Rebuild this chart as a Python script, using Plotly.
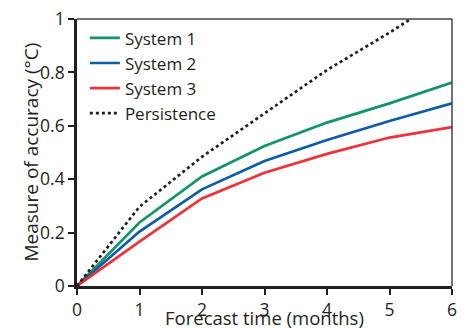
import plotly.graph_objects as go

months = [0, 1, 2, 3, 4, 5, 6]
system1 = [0.0, 0.238, 0.41, 0.524, 0.612, 0.684, 0.762]
system2 = [0.0, 0.204, 0.362, 0.468, 0.547, 0.618, 0.684]
system3 = [0.0, 0.166, 0.328, 0.424, 0.495, 0.556, 0.595]
persistence = [0.0, 0.297, 0.484, 0.648, 0.809, 0.949, 1.10]

x_ticks = [0, 1, 2, 3, 4, 5, 6]
y_ticks = [0, 0.2, 0.4, 0.6, 0.8, 1]
y_tick_labels = ["0", "0.2", "0.4", "0.6", "0.8", "1"]

FONT = "Open Sans, Lato, sans-serif"
INK = "#231f20"

fig = go.Figure()
fig.add_trace(go.Scatter(x=months, y=system1, mode="lines", name="System 1",
                         line=dict(color="#12956b", width=2.7)))
fig.add_trace(go.Scatter(x=months, y=system2, mode="lines", name="System 2",
                         line=dict(color="#0b5dab", width=2.7)))
fig.add_trace(go.Scatter(x=months, y=system3, mode="lines", name="System 3",
                         line=dict(color="#ee3237", width=2.7)))
fig.add_trace(go.Scatter(x=months, y=persistence, mode="lines", name="Persistence",
                         line=dict(color=INK, width=2.7, dash="dot")))

fig.update_layout(
    width=466, height=331,
    margin=dict(l=77, r=14, t=19, b=45),
    paper_bgcolor="white", plot_bgcolor="white",
    font=dict(family=FONT, color=INK, size=18),
    showlegend=True,
    legend=dict(x=0.021, y=0.995, xanchor="left", yanchor="top",
                bgcolor="rgba(0,0,0,0)", font=dict(size=17, family=FONT, color=INK),
                tracegroupgap=0, itemwidth=30),
    xaxis=dict(range=[0, 6], tickvals=x_ticks, ticks="outside", ticklen=6, tickwidth=2,
               tickcolor=INK, showline=True, linecolor=INK, linewidth=2.6,
               showgrid=False, zeroline=False, tickfont=dict(size=17.5, color=INK),
               automargin=False),
    yaxis=dict(range=[0, 1], tickvals=y_ticks, ticktext=y_tick_labels, ticks="outside",
               ticklen=6, tickwidth=2, tickcolor=INK, showline=True,
               linecolor=INK, linewidth=2.6, showgrid=False, zeroline=False,
               tickfont=dict(size=17.5, color=INK), automargin=False),
    annotations=[
        dict(text="Forecast time (months)", xref="paper", yref="paper", x=0.5, y=0,
             xanchor="center", yanchor="bottom", yshift=-46, showarrow=False,
             font=dict(size=18.5, color=INK, family=FONT)),
        dict(text="Measure of accuracy (°C)", xref="paper", yref="paper", x=0, y=0.5,
             xanchor="center", yanchor="middle", xshift=-47, textangle=-90, showarrow=False,
             font=dict(size=19, color=INK, family=FONT)),
    ],
)

# thin top and right frame lines
fig.add_shape(type="line", xref="paper", yref="paper", x0=0, x1=1, y0=1, y1=1,
              line=dict(color="#444444", width=1.5))
fig.add_shape(type="line", xref="paper", yref="paper", x0=1, x1=1, y0=0, y1=1,
              line=dict(color="#444444", width=1.5))

fig.write_html(
    "out.html",
    config={"displayModeBar": False},
    post_script="document.body.style.margin='0';document.body.style.overflow='hidden';",
)
